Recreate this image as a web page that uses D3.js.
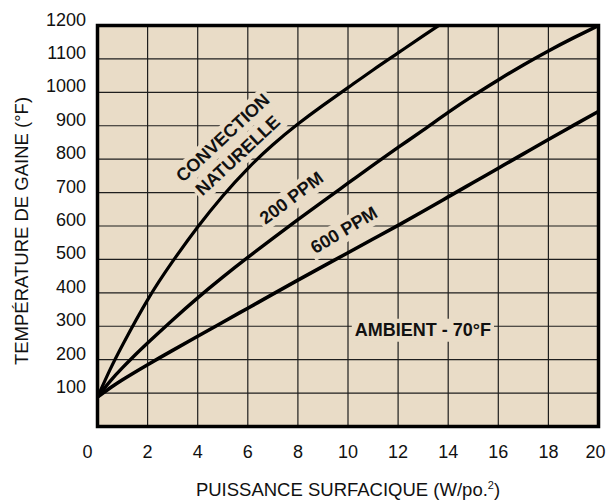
<!DOCTYPE html>
<html><head><meta charset="utf-8">
<script src="https://cdn.jsdelivr.net/npm/d3@7"></script>
<style>body{margin:0;background:#fff}</style>
</head><body>
<svg id="c" width="606" height="500"></svg>
<script>
// ---- data ----
const xTicks = [0, 2, 4, 6, 8, 10, 12, 14, 16, 18, 20];
const yTicks = [100, 200, 300, 400, 500, 600, 700, 800, 900, 1000, 1100, 1200];

const convPower = [0, 0.5, 1, 2, 3, 4, 5, 6, 7, 8, 9, 10, 11, 12, 13, 13.62];
const convTemp  = [88, 170, 244, 379, 494, 597, 690, 772, 843, 905, 961, 1014, 1067, 1118, 1169, 1200];

const ppm200Power = [0, 0.5, 1, 1.5, 2, 3, 4, 5, 6, 7, 8, 9, 10, 11, 12, 13, 14, 15, 16, 17, 18, 19, 20];
const ppm200Temp  = [88, 135, 176, 214, 250, 319, 385, 447, 506, 563, 619, 674, 728, 782, 835, 887, 940, 990, 1037, 1082, 1124, 1163, 1200];

const ppm600Power = [0, 0.5, 1, 2, 3, 4, 5, 6, 7, 8, 9, 10, 11, 12, 13, 14, 15, 16, 17, 18, 19, 20];
const ppm600Temp  = [88, 115, 140, 185, 228, 270, 312, 354, 396, 438, 479, 520, 561, 602, 644, 687, 730, 773, 816, 859, 901, 943];

const labelTexts  = ["CONVECTION", "NATURELLE", "200 PPM", "600 PPM", "AMBIENT - 70°F"];
const labelPower  = [4.99, 5.59, 7.73, 9.83, 12.99];
const labelTemp   = [865, 812, 685, 589, 291];
const labelAngle  = [-43, -43, -37, -31, 0];

const xTitle = "PUISSANCE SURFACIQUE (W/po.";
const yTitle = "TEMPÉRATURE DE GAINE (°F)";

// ---- drawing ----
const svg = d3.select("#c");
const FONT = "'Liberation Sans', Arial, Helvetica, sans-serif";
const BG = "#e9dcc7";

const x = d3.scaleLinear().domain([0, 20]).range([97.5, 598.5]);
const y = d3.scaleLinear().domain([0, 1200]).range([426.5, 25.5]);

svg.append("defs").append("clipPath").attr("id", "clip")
  .append("rect").attr("x", x(0)).attr("y", y(1200))
  .attr("width", x(20) - x(0)).attr("height", y(0) - y(1200));

// background
svg.append("rect").attr("x", x(0)).attr("y", y(1200))
  .attr("width", x(20) - x(0)).attr("height", y(0) - y(1200))
  .attr("fill", BG);

// grid
const grid = svg.append("g").attr("stroke", "#1e1e1e").attr("stroke-width", 1.2);
grid.selectAll("line.v").data(xTicks.filter(d => d > 0 && d < 20)).join("line")
  .attr("x1", d => x(d)).attr("x2", d => x(d))
  .attr("y1", y(1200)).attr("y2", y(0));
grid.selectAll("line.h").data(yTicks.filter(d => d < 1200)).join("line")
  .attr("y1", d => y(d)).attr("y2", d => y(d))
  .attr("x1", x(0)).attr("x2", x(20));

// labels (knockout boxes first)
const labels = labelTexts.map((t, i) => ({t, p: labelPower[i], v: labelTemp[i], a: labelAngle[i]}));
const knock = svg.append("g");
const curvesG = svg.append("g").attr("clip-path", "url(#clip)");
const textG = svg.append("g");

labels.forEach(l => {
  const g = textG.append("g").attr("transform", `translate(${x(l.p)},${y(l.v)}) rotate(${l.a})`);
  const t = g.append("text").text(l.t)
    .attr("text-anchor", "middle").attr("dy", "0.36em")
    .attr("font-family", FONT).attr("font-weight", "bold")
    .attr("font-size", "18px").attr("fill", "#111");
  const bb = t.node().getBBox();
  knock.append("rect")
    .attr("transform", `translate(${x(l.p)},${y(l.v)}) rotate(${l.a})`)
    .attr("x", bb.x - 3).attr("y", bb.y - 1)
    .attr("width", bb.width + 6).attr("height", bb.height + 3)
    .attr("fill", BG);
});

// curves
const line = d3.line().x(d => x(d[0])).y(d => y(d[1])).curve(d3.curveNatural);
const series = [
  {p: convPower, v: convTemp, w: 3.2},
  {p: ppm200Power, v: ppm200Temp, w: 3.4},
  {p: ppm600Power, v: ppm600Temp, w: 3.6}
];
series.forEach(s => {
  curvesG.append("path").datum(s.p.map((p, i) => [p, s.v[i]]))
    .attr("d", line).attr("fill", "none")
    .attr("stroke", "#000").attr("stroke-width", s.w)
    .attr("stroke-linejoin", "round");
});

// border
svg.append("rect").attr("x", x(0)).attr("y", y(1200))
  .attr("width", x(20) - x(0)).attr("height", y(0) - y(1200))
  .attr("fill", "none").attr("stroke", "#000").attr("stroke-width", 3.5);

// y tick labels
svg.append("g").selectAll("text").data(yTicks).join("text")
  .attr("x", 86).attr("y", d => y(d))
  .attr("text-anchor", "end")
  .attr("font-family", FONT).attr("font-size", "18px").attr("fill", "#111")
  .text(d => d);

// x tick labels
svg.append("g").selectAll("text").data(xTicks).join("text")
  .attr("x", d => x(d)).attr("y", 458)
  .attr("dx", d => d === 0 ? -10 : (d === 20 ? -3 : 0))
  .attr("text-anchor", "middle")
  .attr("font-family", FONT).attr("font-size", "18px").attr("fill", "#111")
  .text(d => d);

// axis titles
const xt = svg.append("text")
  .attr("x", (x(0) + x(20)) / 2).attr("y", 496)
  .attr("text-anchor", "middle")
  .attr("font-family", FONT).attr("font-size", "18.5px").attr("fill", "#111");
xt.append("tspan").text(xTitle);
xt.append("tspan").attr("font-size", "11px").attr("dy", "-7").text("2");
xt.append("tspan").attr("dy", "7").text(")");

svg.append("text")
  .attr("transform", `translate(28,${(y(0) + y(1200)) / 2 + 5}) rotate(-90)`)
  .attr("text-anchor", "middle")
  .attr("font-family", FONT).attr("font-size", "18.5px").attr("fill", "#111")
  .text(yTitle);
</script>
</body></html>
